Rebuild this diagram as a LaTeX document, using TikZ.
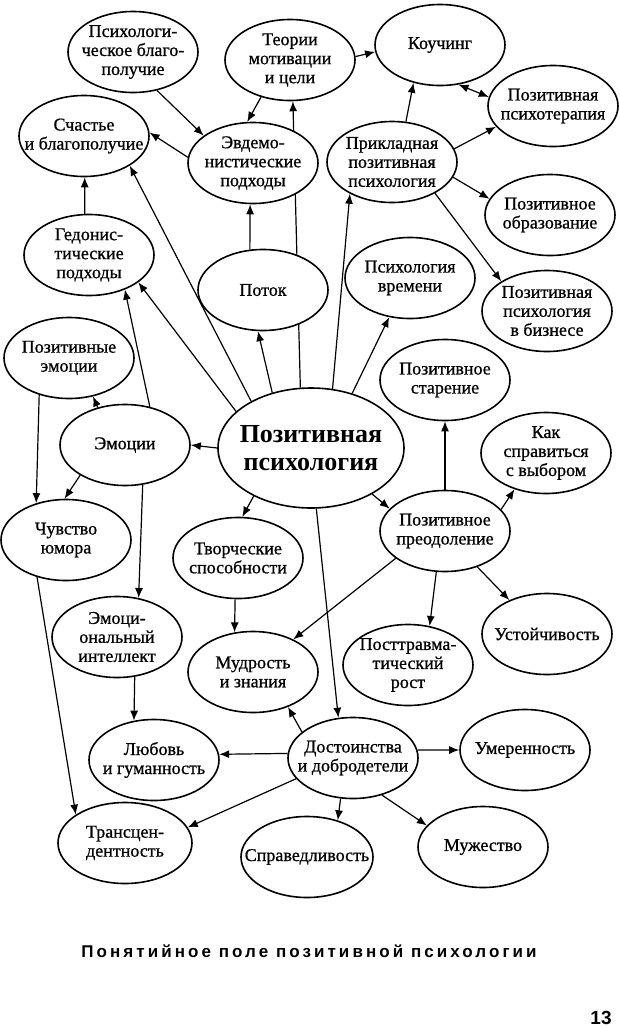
\documentclass[tikz,border=0pt]{standalone}
\usepackage{fontspec}
\setmainfont{Liberation Serif}
\newfontfamily\nodefam[FakeBold=0.8]{Liberation Serif}
\newfontfamily\capfont[LetterSpace=18]{Liberation Sans}
\newfontfamily\numfont{Liberation Sans}
\usetikzlibrary{shapes.geometric,arrows.meta,backgrounds}
\newcommand\nodefont{\nodefam\fontsize{18}{19}\selectfont}
\newcommand\centfont{\fontsize{26}{28}\selectfont\bfseries}
\begin{document}
\begin{tikzpicture}[x=1pt,y=-1pt,
  ell/.style={draw, ellipse, line width=1.6pt, fill=white, minimum width=130pt, minimum height=81pt, inner sep=0pt},
  txt/.style={font=\nodefont, align=center, inner sep=0pt},
  bigtxt/.style={font=\centfont, align=center, inner sep=0pt},
  conn/.style={line width=1.2pt, -{Latex[length=10pt,width=8pt]}},
  dconn/.style={line width=1.2pt, {Latex[length=10pt,width=8pt]}-{Latex[length=10pt,width=8pt]}},
]
\useasboundingbox (0,0) rectangle (620,1029);

\node[ell, label={[txt]center:{Психологи-\\ческое благо-\\получие}}] (pb) at (133,52) {};
\node[ell, label={[txt]center:{Теории\\мотивации\\и цели}}] (tm) at (290,60) {};
\node[ell, label={[txt]center:{Коучинг}}] (ko) at (440,45) {};
\node[ell, label={[txt]center:{Позитивная\\психотерапия}}] (pt) at (553,106) {};
\node[ell, label={[txt]center:{Счастье\\и благополучие}}] (sb) at (84,136) {};
\node[ell, label={[txt]center:{Эвдемо-\\нистические\\подходы}}] (ev) at (253,163) {};
\node[ell, label={[txt]center:{Прикладная\\позитивная\\психология}}] (pp) at (392,162) {};
\node[ell, label={[txt]center:{Позитивное\\образование}}] (po) at (550,215) {};
\node[ell, label={[txt]center:{Гедонис-\\тические\\подходы}}] (gp) at (89,255) {};
\node[ell, label={[txt]center:{Поток}}] (fl) at (263,290) {};
\node[ell, label={[txt]center:{Психология\\времени}}] (vr) at (410,278) {};
\node[ell, label={[txt]center:{Позитивная\\психология\\в бизнесе}}] (bz) at (547,311) {};
\node[ell, label={[txt]center:{Позитивные\\эмоции}}] (pe) at (69,358) {};
\node[ell, label={[txt]center:{Позитивное\\старение}}] (st) at (445,380) {};
\node[ell, minimum width=186pt, minimum height=120pt, label={[bigtxt]center:{Позитивная\\психология}}] (c) at (311,448) {};
\node[ell, label={[txt]center:{Эмоции}}] (em) at (125,445) {};
\node[ell, label={[txt]center:{Как\\справиться\\с выбором}}] (kv) at (546,453) {};
\node[ell, label={[txt]center:{Чувство\\юмора}}] (hu) at (66,540) {};
\node[ell, label={[txt]center:{Творческие\\способности}}] (tv) at (238,558) {};
\node[ell, label={[txt]center:{Позитивное\\преодоление}}] (pr) at (445,531) {};
\node[ell, label={[txt]center:{Эмоци-\\ональный\\интеллект}}] (ei) at (117,637) {};
\node[ell, label={[txt]center:{Мудрость\\и знания}}] (mz) at (253,672) {};
\node[ell, label={[txt]center:{Посттравма-\\тический\\рост}}] (ptr) at (408,665) {};
\node[ell, label={[txt]center:{Устойчивость}}] (us) at (547,634) {};
\node[ell, label={[txt]center:{Любовь\\и гуманность}}] (lg) at (154,760) {};
\node[ell, label={[txt]center:{Достоинства\\и добродетели}}] (dd) at (353,758) {};
\node[ell, label={[txt]center:{Умеренность}}] (um) at (525,750) {};
\node[ell, minimum width=134pt, label={[txt]center:{Трансцен-\\дентность}}] (tr) at (125,843) {};
\node[ell, minimum width=132pt, label={[txt]center:{Справедливость}}] (sp) at (307,857) {};
\node[ell, label={[txt]center:{Мужество}}] (mu) at (483,847) {};

\node[font=\capfont\bfseries\fontsize{17}{20}\selectfont, inner sep=0pt] (cap) at (309,951) {Понятийное поле позитивной психологии};
\node[font=\numfont\bfseries\fontsize{19}{20}\selectfont, inner sep=0pt] (pg) at (601,1018) {13};

\begin{pgfonlayer}{background}
\fill[white] (0,0) rectangle (620,1029);
\draw[conn] (pb.-58) -- (ev.151);
\draw[conn] (tm.-128) -- (ev.98);
\draw[conn] (c.100) -- (tm.-86);
\draw[conn] (tm.3) -- (ko.-174);
\draw[conn] (ev.175) -- (sb.3);
\draw[conn] (pp.71) -- (ko.-125);
\draw[dconn] (ko.-65) -- (pt.172);
\draw[conn] (pp.12) -- (pt.-160);
\draw[conn] (pp.-14) -- (po.165);
\draw[conn] (pp.-36) -- (bz.147);
\draw[conn] (c.70) -- (pp.-143);
\draw[conn] (fl.108) -- (ev.-94);
\draw[conn] (gp.96) -- (sb.-89);
\draw[conn] (c.142) -- (sb.-33);
\draw[conn] (c.154) -- (gp.-29);
\draw[conn] (em.57) -- (gp.-44);
\draw[conn] (c.125) -- (fl.-97);
\draw[conn] (c.53) -- (vr.-118);
\draw[conn] (c.180) -- (em.0);
\draw[conn] (em.126) -- (pe.-58);
\draw[conn] (pe.-129) -- (hu.129);
\draw[conn] (em.-146) -- (hu.92);
\draw[conn] (em.-66) -- (ei.61);
\draw[conn] (hu.-128) -- (tr.150);
\draw[conn] (ei.-66) -- (lg.117);
\draw[conn] (c.-140) -- (tv.84);
\draw[conn] (tv.-94) -- (mz.115);
\draw[conn] (pr.-151) -- (mz.39);
\draw[conn] (c.-37) -- (pr.158);
\draw[conn] (pr.90) -- (st.-90);
\draw[conn] (pr.21) -- (kv.-131);
\draw[conn] (pr.-102) -- (ptr.61);
\draw[conn] (pr.-48) -- (us.138);
\draw[conn] (c.-85) -- (dd.110);
\draw[conn] (dd.153) -- (mz.-45);
\draw[conn] (dd.176) -- (lg.5);
\draw[conn] (dd.7) -- (um.180);
\draw[conn] (dd.-160) -- (tr.14);
\draw[conn] (dd.-107) -- (sp.50);
\draw[conn] (dd.-52) -- (mu.159);
\end{pgfonlayer}
\end{tikzpicture}
\end{document}
